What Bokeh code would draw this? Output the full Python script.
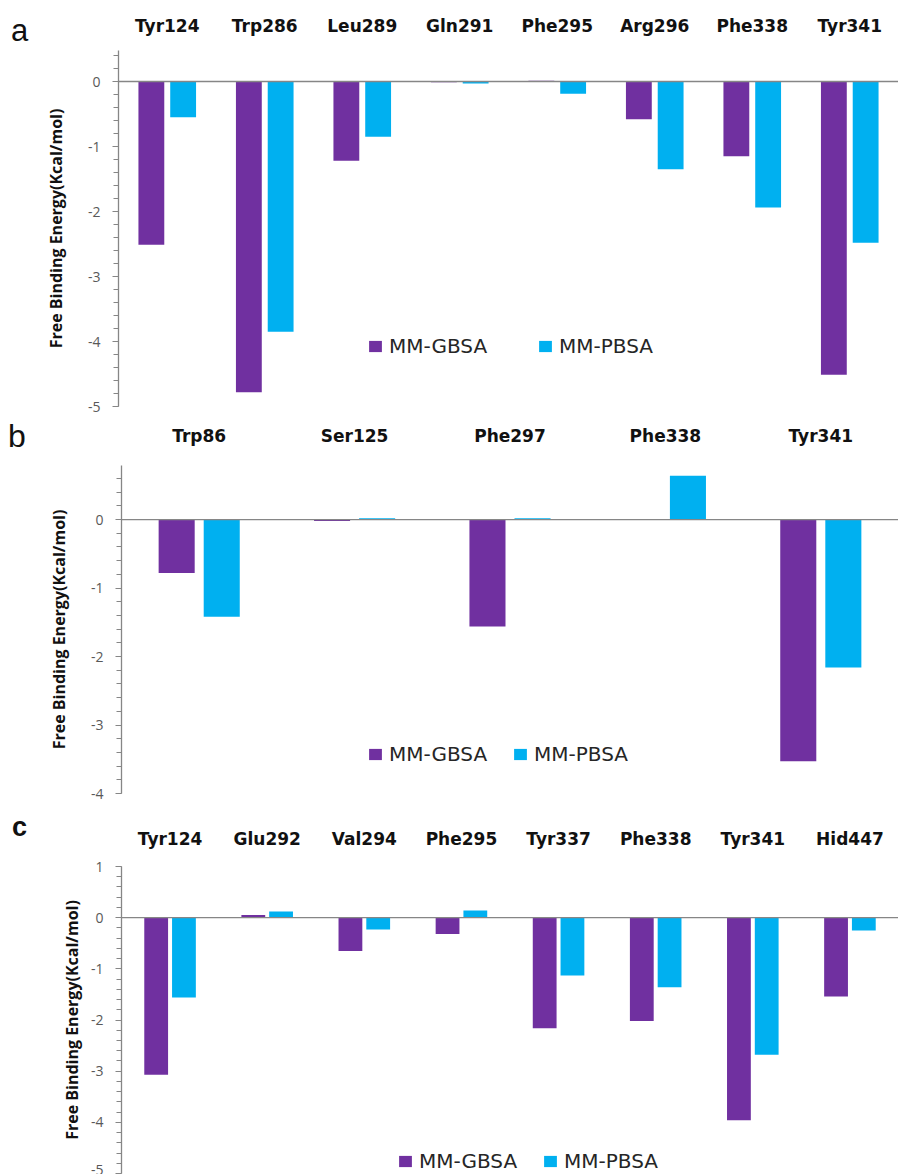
from bokeh.plotting import figure
from bokeh.models import (FactorRange, Range1d, Span, Legend, LegendItem, Div,
                          SingleIntervalTicker, ColumnDataSource, PrintfTickFormatter)
from bokeh.transform import dodge
from bokeh.layouts import column, row
from bokeh.embed import file_html
from bokeh.resources import INLINE

series_names = ["MM-GBSA", "MM-PBSA"]
series_colors = ["#7030A0", "#00B0F0"]

a_residues = ["Tyr124", "Trp286", "Leu289", "Gln291", "Phe295", "Arg296", "Phe338", "Tyr341"]
a_gbsa = [-2.51, -4.78, -1.22, -0.01, 0.01, -0.58, -1.15, -4.51]
a_pbsa = [-0.55, -3.85, -0.85, -0.03, -0.19, -1.35, -1.94, -2.48]

b_residues = ["Trp86", "Ser125", "Phe297", "Phe338", "Tyr341"]
b_gbsa = [-0.78, -0.02, -1.56, 0.0, -3.53]
b_pbsa = [-1.42, 0.02, 0.02, 0.64, -2.16]

c_residues = ["Tyr124", "Glu292", "Val294", "Phe295", "Tyr337", "Phe338", "Tyr341", "Hid447"]
c_gbsa = [-3.07, 0.05, -0.65, -0.32, -2.16, -2.02, -3.96, -1.54]
c_pbsa = [-1.56, 0.12, -0.23, 0.14, -1.13, -1.36, -2.68, -0.25]

panel_letters = ["a", "b", "c"]

AXIS_GRAY = "#868686"
TICK_TEXT = "#595959"
LETTER_W = 40


def make_letter(letter, height, pad_top, pad_left, size, weight):
    html = ("<div style=\"padding:%dpx 0 0 %dpx;font-family:'Liberation Sans',Arial,sans-serif;"
            "font-size:%dpx;line-height:%dpx;font-weight:%s;color:#111111;\">%s</div>"
            % (pad_top, pad_left, size, size, weight, letter))
    return Div(text=html, width=LETTER_W, height=height, margin=0)


def make_panel(residues, gbsa, pbsa, height, border_top, border_bottom,
               border_left, y_start, y_end, bar_w, offset, leg_xy, leg_spacing,
               title_standoff, cat_standoff):
    src = ColumnDataSource(dict(res=residues, gbsa=gbsa, pbsa=pbsa))
    p = figure(width=898 - LETTER_W, height=height,
               x_range=FactorRange(*residues, range_padding=0),
               y_range=Range1d(y_start, y_end), x_axis_location="above",
               output_backend="svg", toolbar_location=None,
               min_border_left=border_left - LETTER_W, min_border_right=0,
               min_border_top=border_top, min_border_bottom=border_bottom)
    p.outline_line_color = None
    p.xgrid.visible = False
    p.ygrid.visible = False

    r1 = p.vbar(x=dodge("res", -offset, range=p.x_range), top="gbsa", bottom=0,
                width=bar_w, source=src, fill_color=series_colors[0], line_color=None)
    r2 = p.vbar(x=dodge("res", offset, range=p.x_range), top="pbsa", bottom=0,
                width=bar_w, source=src, fill_color=series_colors[1], line_color=None)

    p.add_layout(Span(location=0, dimension="width", line_color=AXIS_GRAY, line_width=1.3))

    xa = p.xaxis[0]
    xa.axis_line_color = None
    xa.major_tick_line_color = None
    xa.minor_tick_line_color = None
    xa.major_label_standoff = cat_standoff
    xa.major_label_text_font = "DejaVu Sans"
    xa.major_label_text_font_style = "bold"
    xa.major_label_text_font_size = "17px"
    xa.major_label_text_color = "#111111"

    ya = p.yaxis[0]
    ya.ticker = SingleIntervalTicker(interval=1, num_minor_ticks=5)
    ya.formatter = PrintfTickFormatter(format="%d")
    ya.axis_line_color = AXIS_GRAY
    ya.axis_line_width = 1.3
    ya.major_tick_line_color = AXIS_GRAY
    ya.minor_tick_line_color = AXIS_GRAY
    ya.major_tick_in = 0
    ya.major_tick_out = 6
    ya.minor_tick_in = 0
    ya.minor_tick_out = 5
    ya.major_label_standoff = 12
    ya.major_label_text_font = "Open Sans"
    ya.major_label_text_font_size = "14px"
    ya.major_label_text_color = TICK_TEXT
    ya.axis_label = "Free Binding Energy(Kcal/mol)"
    ya.axis_label_text_font = "Open Sans"
    ya.axis_label_text_font_style = "bold"
    ya.axis_label_text_font_size = "16px"
    ya.axis_label_text_color = "#111111"
    ya.axis_label_standoff = title_standoff

    legend = Legend(items=[LegendItem(label=series_names[0], renderers=[r1]),
                           LegendItem(label=series_names[1], renderers=[r2])],
                    orientation="horizontal", location=leg_xy, spacing=leg_spacing,
                    padding=0, margin=0, border_line_color=None,
                    background_fill_alpha=0, glyph_width=16, glyph_height=14,
                    label_standoff=6, label_text_font="DejaVu Sans",
                    label_text_font_size="20px", label_text_color="#262626")
    p.add_layout(legend, "center")
    return p


# canvas rows: a 0..415 (frame 50..406), b 415..803 (frame 465..793), c 803..1174 (frame 866..1173)
HA, HB, HC = 415, 388, 371
pa = make_panel(a_residues, a_gbsa, a_pbsa, height=HA, border_top=50,
                border_bottom=9, border_left=118, y_start=-5.0, y_end=0.477,
                bar_w=0.265, offset=0.163, leg_xy=(249, 48), leg_spacing=50,
                title_standoff=18, cat_standoff=9)
pb = make_panel(b_residues, b_gbsa, b_pbsa, height=HB, border_top=50,
                border_bottom=10, border_left=121, y_start=-4.0, y_end=0.79,
                bar_w=0.232, offset=0.145, leg_xy=(246, 27), leg_spacing=25,
                title_standoff=18, cat_standoff=14)
pc = make_panel(c_residues, c_gbsa, c_pbsa, height=HC, border_top=63,
                border_bottom=1, border_left=121, y_start=-5.0, y_end=1.0,
                bar_w=0.245, offset=0.143, leg_xy=(276, 0), leg_spacing=25,
                title_standoff=5, cat_standoff=12)

la = make_letter(panel_letters[0], HA, 15, 11, 31, "normal")
lb = make_letter(panel_letters[1], HB, 5, 8, 32, "normal")
lc = make_letter(panel_letters[2], HC, 11, 12, 27, "bold")

layout = column(row(la, pa, spacing=0), row(lb, pb, spacing=0),
                row(lc, pc, spacing=0), spacing=0)
open("out.html", "w").write(file_html(layout, INLINE))
